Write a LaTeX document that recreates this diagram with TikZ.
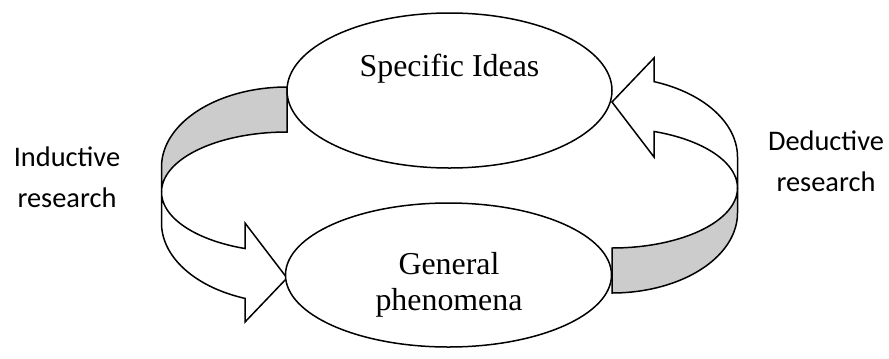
\documentclass[tikz,border=0pt]{standalone}
\usepackage{fontspec}
\setmainfont{Liberation Serif}
\newfontfamily\labelfont{Carlito}
\usetikzlibrary{shapes.geometric}
\definecolor{bandgray}{RGB}{204,204,204}
\begin{document}
\begin{tikzpicture}[x=1bp,y=-1bp,
  outline/.style={draw=black,line width=1.5bp,line join=miter},
  bubble/.style={ellipse,outline,fill=white,inner sep=0pt},
  sidelabel/.style={font=\labelfont\fontsize{28.5}{41}\selectfont,align=center,inner sep=0pt,anchor=base},
  bubbletext/.style={font=\fontsize{32}{36}\selectfont,align=center,inner sep=0pt,anchor=base}]
\useasboundingbox (0,0) rectangle (889,358);

% curved arrow (inductive), left side
\newcommand\curvedarrow{%
  \filldraw[outline,fill=bandgray] (287,87)
    -- plot[domain=270:180,samples=40] ({287+125.5*cos(\x)},{167+80*sin(\x)})
    -- (161.5,192)
    -- plot[domain=180:270,samples=40] ({287+125.5*cos(\x)},{192+60*sin(\x)})
    -- cycle;
  \filldraw[outline,fill=white] (161.5,192) -- (161.5,223)
    -- plot[domain=180:109.55,samples=40] ({287+125.5*cos(\x)},{223+80*sin(\x)})
    -- (245,322) -- (287,278) -- (245,223)
    -- plot[domain=109.55:180,samples=40] ({287+125.5*cos(\x)},{192+60*sin(\x)})
    -- cycle;}
\curvedarrow
\begin{scope}[rotate around={180:(449.5,190)}]
\curvedarrow
\end{scope}

\node[bubble,minimum width=325bp,minimum height=155bp] (spec) at (449.5,90.5) {};
\node[bubble,minimum width=326bp,minimum height=144bp] (gen) at (448.5,275) {};

\node[bubbletext] (spectext) at (449.5,76) {Specific Ideas};
\node[bubbletext] (gentext) at (449,310) {General\\phenomena};

\node[sidelabel] (ind) at (67,207) {Inductive\\research};
\node[sidelabel] (ded) at (826,191.5) {Deductive\\research};
\end{tikzpicture}
\end{document}
